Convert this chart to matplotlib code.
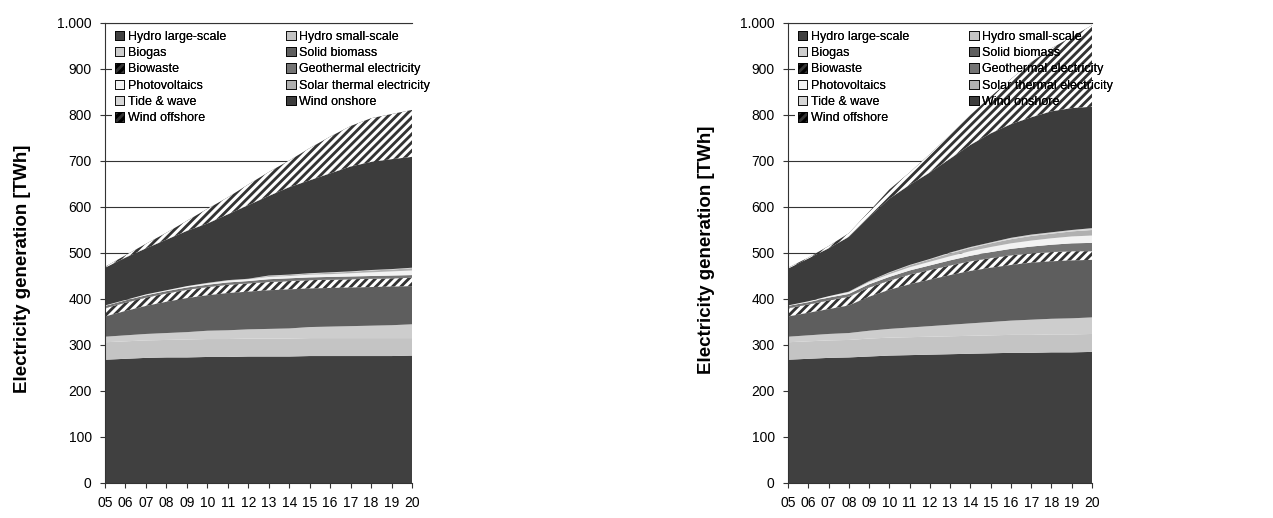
import matplotlib
matplotlib.use("Agg")
import matplotlib.pyplot as plt
import numpy as np

plt.rcParams['font.family'] = ['Liberation Sans', 'DejaVu Sans']
plt.rcParams['hatch.linewidth'] = 2.2

years = list(range(2005, 2021))
year_labels = ['%02d' % (y % 100) for y in years]

series_names = ['Hydro large-scale', 'Hydro small-scale', 'Biogas', 'Solid biomass',
                'Biowaste', 'Geothermal electricity', 'Photovoltaics',
                'Solar thermal electricity', 'Tide & wave', 'Wind onshore', 'Wind offshore']

# left scenario (TWh)
hydro_large_L = [268, 270, 272, 273, 273, 274, 274, 275, 275, 275, 276, 276, 276, 276, 276, 277]
hydro_small_L = [38, 38, 38, 38, 39, 39, 39, 39, 39, 39, 39, 39, 39, 39, 39, 38]
biogas_L = [12, 13, 14, 15, 16, 18, 19, 20, 21, 22, 24, 25, 26, 27, 28, 30]
solid_L = [44, 53, 61, 68, 74, 77, 81, 82, 84, 85, 84, 84, 84, 84, 84, 83]
biowaste_L = [18, 18, 18, 18, 18, 18, 18, 18, 18, 18, 18, 18, 18, 18, 18, 18]
geo_L = [5, 5, 5, 5, 5, 5, 5, 5, 6, 6, 6, 6, 6, 6, 6, 6]
pv_L = [1, 1, 2, 2, 3, 3, 4, 4, 5, 5, 6, 6, 7, 8, 9, 10]
solar_L = [0, 0, 0, 0, 0, 1, 1, 1, 2, 2, 2, 3, 3, 4, 4, 5]
tide_L = [0, 0, 0, 0, 0, 0, 0, 0, 1, 1, 1, 1, 1, 1, 1, 1]
onshore_L = [82, 92, 100, 110, 120, 129, 143, 160, 173, 190, 202, 215, 228, 235, 239, 241]
offshore_L = [2, 5, 10, 15, 22, 32, 37, 45, 52, 58, 70, 80, 88, 95, 98, 102]

# right scenario (TWh)
hydro_large_R = [268, 270, 272, 273, 275, 277, 278, 279, 280, 281, 282, 283, 283, 284, 284, 285]
hydro_small_R = [38, 38, 38, 38, 39, 39, 39, 39, 39, 39, 39, 39, 39, 39, 39, 39]
biogas_R = [12, 13, 14, 15, 17, 19, 21, 23, 25, 27, 29, 31, 33, 34, 35, 36]
solid_R = [44, 49, 54, 60, 74, 85, 94, 101, 108, 114, 118, 121, 124, 125, 126, 125]
biowaste_R = [18, 18, 19, 19, 20, 20, 21, 21, 21, 21, 21, 21, 20, 20, 20, 19]
geo_R = [5, 5, 6, 6, 7, 8, 9, 10, 11, 12, 13, 14, 15, 16, 17, 18]
pv_R = [1, 2, 3, 4, 5, 6, 7, 8, 9, 10, 11, 12, 13, 14, 15, 16]
solar_R = [0, 0, 0, 1, 2, 3, 4, 5, 6, 7, 8, 9, 10, 10, 11, 12]
tide_R = [0, 0, 0, 0, 0, 1, 1, 1, 2, 2, 2, 3, 3, 3, 3, 4]
onshore_R = [80, 93, 104, 119, 139, 160, 174, 188, 204, 222, 237, 247, 255, 263, 265, 264]
offshore_R = [2, 2, 5, 8, 12, 20, 27, 40, 52, 65, 80, 98, 120, 137, 155, 177]

colors = ['#404040', '#c4c4c4', '#cdcdcd', '#5e5e5e', '#333333', '#747474',
          '#f2f2f2', '#b0b0b0', '#d6d6d6', '#3c3c3c', '#333333']
hatches = [None, None, None, None, '////', None, None, None, None, None, '////']

# legend order: two columns as in the original
legend_order = [0, 2, 4, 6, 8, 10, 1, 3, 5, 7, 9]


def make_legend(ax, polys, on_top):
    leg = ax.legend([polys[i] for i in legend_order], [series_names[i] for i in legend_order],
                    ncol=2, loc='upper left', bbox_to_anchor=(0.024, 0.989), fontsize=9,
                    frameon=not on_top, fancybox=False, framealpha=1, facecolor='white',
                    edgecolor='none', handlelength=0.75, handleheight=0.75,
                    handletextpad=0.3, labelspacing=0.35, columnspacing=4.8,
                    borderpad=0.2, borderaxespad=0)
    for h in leg.legend_handles:
        h.set_linewidth(0.6)
        h.set_edgecolor('black')
    if not on_top:
        # white box only: hides the gridlines, areas are drawn over it
        for t in leg.get_texts():
            t.set_alpha(0)
        for h in leg.legend_handles:
            h.set_visible(False)
        leg.set_zorder(1)
    else:
        leg.set_zorder(5)
    ax.add_artist(leg)


def draw(ax, data, label_y):
    polys = ax.stackplot(years, *data, colors=colors, linewidth=0, zorder=2)
    for p, h in zip(polys, hatches):
        if h:
            p.set_hatch(h)
            p.set_edgecolor('white')
    ax.set_xlim(2005, 2020)
    ax.set_ylim(0, 1000)
    ax.set_yticks(range(0, 1001, 100))
    ax.set_yticklabels([str(v) if v < 1000 else '1.000' for v in range(0, 1001, 100)])
    ax.set_xticks(years)
    ax.set_xticklabels(year_labels)
    ax.tick_params(direction='out', length=3.6, width=0.8, labelsize=10, color='#333333')
    ax.tick_params(axis='x', pad=6)
    ax.tick_params(axis='y', pad=6)
    ax.yaxis.grid(True, color='#333333', linewidth=0.8, zorder=0)
    ax.set_axisbelow(True)
    ax.spines['right'].set_visible(False)
    for s in ['left', 'bottom', 'top']:
        ax.spines[s].set_color('#333333')
        ax.spines[s].set_linewidth(0.8)
    ax.set_ylabel('Electricity generation [TWh]', fontsize=13.5, fontweight='bold')
    ax.yaxis.set_label_coords(-0.24, label_y)
    make_legend(ax, polys, on_top=False)
    make_legend(ax, polys, on_top=True)


fig = plt.figure(figsize=(12.73, 5.18), dpi=100)
ax1 = fig.add_axes([105 / 1273, 35 / 518, 307 / 1273, 460 / 518])
ax2 = fig.add_axes([788 / 1273, 35 / 518, 304 / 1273, 460 / 518])

draw(ax1, [hydro_large_L, hydro_small_L, biogas_L, solid_L, biowaste_L, geo_L,
           pv_L, solar_L, tide_L, onshore_L, offshore_L], 0.465)
draw(ax2, [hydro_large_R, hydro_small_R, biogas_R, solid_R, biowaste_R, geo_R,
           pv_R, solar_R, tide_R, onshore_R, offshore_R], 0.507)

fig.savefig('out.png', dpi=100)
